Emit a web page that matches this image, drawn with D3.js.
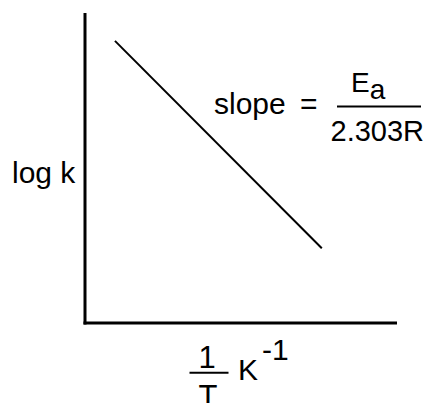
<!DOCTYPE html>
<html>
<head>
<meta charset="utf-8">
<script src="https://cdn.jsdelivr.net/npm/d3@7"></script>
<style>
  body { margin: 0; background: #fff; }
  text { font-family: "Liberation Sans", Arial, Helvetica, sans-serif; fill: #000; }
</style>
</head>
<body>
<script>
// ////////// Daten ////////////
var xDomain = [0, 10];
var yDomain = [0, 10];
var lineX = [0.96, 7.59];   // 1/T
var lineY = [9.10, 2.41];   // log k
var yLabel = "log k";
var slopeLabel = ["slope", "="];
var slopeNum = ["E", "a"];
var slopeDen = "2.303R";
var xLabelNum = "1";
var xLabelDen = "T";
var xLabelUnit = ["K", "-1"];

// ////////// svg ////////////
var width = 430, height = 403;
var svg = d3.select("body").append("svg")
  .attr("width", width)
  .attr("height", height);

var xScale = d3.scaleLinear().domain(xDomain).range([85, 397]);
var yScale = d3.scaleLinear().domain(yDomain).range([323, 13]);

// Achsen (nur Linien, keine Ticks)
svg.append("line")
  .attr("x1", xScale(xDomain[0])).attr("x2", xScale(xDomain[0]))
  .attr("y1", yScale(yDomain[1])).attr("y2", yScale(yDomain[0]) + 1.5)
  .attr("stroke", "#000").attr("stroke-width", 3);
svg.append("line")
  .attr("x1", xScale(xDomain[0]) - 1.5).attr("x2", xScale(xDomain[1]))
  .attr("y1", yScale(yDomain[0])).attr("y2", yScale(yDomain[0]))
  .attr("stroke", "#000").attr("stroke-width", 3);

// Gerade
var pts = lineX.map(function(x, i) { return [x, lineY[i]]; });
svg.append("path")
  .datum(pts)
  .attr("fill", "none")
  .attr("stroke", "#000")
  .attr("stroke-width", 2)
  .attr("d", d3.line().x(function(d) { return xScale(d[0]); }).y(function(d) { return yScale(d[1]); }));

// y-Beschriftung
svg.append("text")
  .attr("x", 12).attr("y", 183)
  .style("font-size", "30px")
  .text(yLabel);

// Steigung
var sl = svg.append("text")
  .attr("x", 214).attr("y", 114)
  .style("font-size", "30px");
sl.append("tspan").text(slopeLabel[0]);
sl.append("tspan").attr("x", 300).text(slopeLabel[1]);

var num = svg.append("text")
  .attr("x", 351).attr("y", 92)
  .style("font-size", "28px");
num.append("tspan").text(slopeNum[0]);
num.append("tspan").attr("dy", 7).text(slopeNum[1]);
svg.append("line")
  .attr("x1", 337).attr("x2", 421)
  .attr("y1", 106.5).attr("y2", 106.5)
  .attr("stroke", "#000").attr("stroke-width", 2);
svg.append("text")
  .attr("x", 330.5).attr("y", 141)
  .style("font-size", "29px")
  .text(slopeDen);

// x-Beschriftung
svg.append("text")
  .attr("x", 207).attr("y", 367.5)
  .attr("text-anchor", "middle")
  .style("font-size", "31px")
  .text(xLabelNum);
svg.append("line")
  .attr("x1", 189.5).attr("x2", 228.5)
  .attr("y1", 372.7).attr("y2", 372.7)
  .attr("stroke", "#000").attr("stroke-width", 2);
svg.append("text")
  .attr("x", 208).attr("y", 407)
  .attr("text-anchor", "middle")
  .style("font-size", "31px")
  .text(xLabelDen);
var unit = svg.append("text")
  .attr("x", 238).attr("y", 380)
  .style("font-size", "30px");
unit.append("tspan").text(xLabelUnit[0]);
unit.append("tspan").attr("x", 262).attr("y", 360).text(xLabelUnit[1]);
</script>
</body>
</html>
